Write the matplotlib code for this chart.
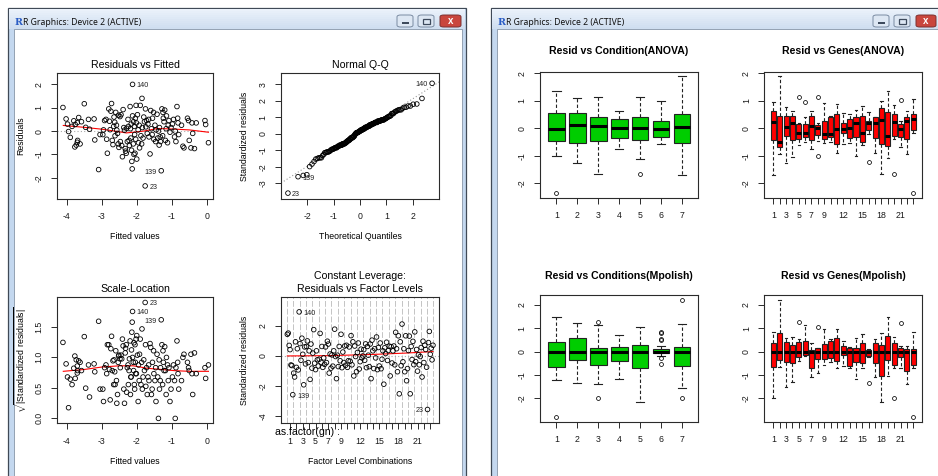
import matplotlib
matplotlib.use("Agg")
import matplotlib.pyplot as plt
from matplotlib.patches import Rectangle, FancyBboxPatch
from statistics import NormalDist
import numpy as np

plt.rcParams['font.family'] = ['Liberation Sans', 'DejaVu Sans']
plt.rcParams['mathtext.fontset'] = 'custom'
plt.rcParams['mathtext.rm'] = 'Liberation Sans'
plt.rcParams['axes.unicode_minus'] = False

# ---------------- data: Residuals vs Fitted (lm) ----------------
fitted_vals = [
    -4.11, -4.02, -3.98, -3.95, -3.90, -3.80, -3.76, -3.77, -3.73, -3.70, -3.69, -3.66,
    -3.70, -3.50, -3.46, -3.38, -3.35, -3.22, -3.20, -3.09, -3.05, -3.58, -3.62, -3.85,
    -2.97, -2.92, -2.88, -2.84, -2.80, -2.76, -2.72, -2.70, -2.68, -2.65, -2.63, -2.60,
    -2.58, -2.57, -2.55, -2.53, -2.51, -2.62, -2.78, -2.95, -2.66, -2.86, -2.74, -2.52,
    -2.48, -2.47, -2.45, -2.43, -2.41, -2.39, -2.37, -2.35, -2.33, -2.32, -2.30, -2.29,
    -2.27, -2.25, -2.24, -2.22, -2.21, -2.19, -2.18, -2.17, -2.16, -2.15, -2.14, -2.13,
    -2.12, -2.12, -2.10, -2.09, -2.08, -2.07, -2.06, -2.05, -2.04, -2.03, -2.02, -2.01,
    -2.00,
    -1.98, -1.96, -1.95, -1.93, -1.90, -1.88, -1.85, -1.84, -1.82, -1.80, -1.78, -1.76,
    -1.75, -1.72, -1.70, -1.68, -1.66, -1.65, -1.62, -1.60, -1.58, -1.56, -1.55, -1.52,
    -1.51, -1.92, -1.86, -1.74,
    -1.48, -1.46, -1.45, -1.42, -1.40, -1.38, -1.36, -1.35, -1.32, -1.30, -1.28, -1.26,
    -1.25, -1.22, -1.20, -1.18, -1.16, -1.15, -1.12, -1.10, -1.08, -1.05, -1.02, -1.33,
    -1.24,
    -0.98, -0.95, -0.92, -0.90, -0.88, -0.85, -0.83, -0.82, -0.80, -0.72, -0.68, -0.65,
    -0.55, -0.52, -0.50, -0.45, -0.42, -0.40, -0.35, -0.30, -0.05, -0.03, 0.05,
]
resid_vals = [
    1.01, 0.52, 0.30, -0.02, -0.27, 0.44, 0.28, -0.68, -0.60, -0.48, -0.40, 0.58,
    0.36, 1.17, 0.16, 0.50, 0.08, 0.52, -0.38, -1.65, -0.15, 0.40, -0.55, 0.20,
    -0.15, 0.45, 0.50, -0.95, 0.95, 0.06, 1.18, -0.40, -0.58, 0.60, 0.38, 0.80,
    0.25, 0.04, -0.10, -0.55, -0.70, -0.20, 0.42, 0.05, 0.20, -0.35, 0.85, 0.68,
    0.62, -0.45, 0.70, -0.62, -1.10, 0.92, 0.15, 0.04, -0.75, -0.86, -0.95, 0.12,
    -0.45, 0.50, 0.20, -0.40, -0.62, 1.05, 0.10, -0.30, 0.30, -0.82, -1.30, -1.62,
    0.65, 2.00, -0.55, 0.40, -1.00, 0.20, -0.15, -0.95, 0.55, -0.35, 1.10, 0.35,
    -1.20,
    0.70, 0.05, -0.50, 0.25, 1.10, -0.20, 1.40, 0.15, -0.30, 0.60, 0.40, -2.35,
    0.95, 0.45, -0.10, 0.30, 0.50, -0.25, -0.98, 0.88, 0.10, -0.15, 0.55, 0.80,
    -0.35, -0.72, -0.55, 0.18,
    0.25, -0.45, 0.05, 0.72, -0.30, 0.00, -0.60, 0.15, -0.45, -1.70, 0.95, -0.20,
    0.80, 0.40, 0.90, -0.40, 0.10, 0.65, -0.50, 0.25, 0.45, -0.05, 0.15, -0.25,
    0.55,
    0.30, 0.50, -0.25, 0.00, -0.45, 1.05, 0.55, 0.35, -0.15, 0.25, -0.65, -0.72,
    0.55, 0.45, -0.40, -0.72, 0.35, -0.10, -0.75, 0.35, 0.45, 0.28, -0.50,
]
resid_scale = 0.654          # sigma * sqrt(1 - h), constant leverage
id_labels = {2.00: "140", -1.70: "139", -2.35: "23"}

smooth_rf_x = [-4.1, -3.5, -3.0, -2.5, -2.3, -2.1, -1.8, -1.4, -1.0, -0.5, 0.05]
smooth_rf_y = [0.24, 0.16, 0.08, -0.03, -0.08, -0.05, 0.00, 0.11, 0.09, 0.05, -0.05]
smooth_sl_x = [-4.1, -3.5, -3.0, -2.5, -2.1, -1.7, -1.3, -0.9, -0.5, 0.05]
smooth_sl_y = [0.77, 0.80, 0.84, 0.86, 0.86, 0.82, 0.80, 0.78, 0.77, 0.77]

# standardized residuals by gene (rows) and condition (cols) for leverage plot
lev_std = [
    [1.42, 1.50, 0.68, 0.40, -0.62, -0.66, -2.60],
    [-1.16, -1.42, 0.92, -0.78, 0.46, -0.95, 2.91],
    [0.80, -0.31, 1.16, 0.09, -1.94, 0.58, -0.55],
    [0.61, 0.98, -0.46, 0.32, -1.58, 0.77, -0.83],
    [0.17, 1.73, -0.50, -0.93, 0.32, -0.28, -0.69],
    [-0.24, 1.48, -0.43, 0.61, -0.78, -0.15, -0.58],
    [0.58, -0.46, 0.96, 0.77, -1.16, 0.11, -0.83],
    [0.05, -0.70, 0.32, 1.76, -0.06, -1.53, 0.03],
    [-0.73, 0.61, -0.34, 1.42, -0.80, 0.24, -0.46],
    [0.64, -0.64, 0.69, -0.78, -0.34, 0.58, -0.37],
    [1.33, -0.61, 0.92, -1.35, 0.64, -0.06, -1.07],
    [0.21, 0.84, -0.89, -0.40, 0.43, -0.15, -0.02],
    [0.40, -0.31, 0.78, -0.80, 0.61, 0.03, -0.73],
    [0.77, -1.53, 1.03, 0.32, -0.86, 0.46, -0.15],
    [1.24, -0.93, 0.54, -0.69, 0.84, -0.87, -0.24],
    [0.32, -1.90, 0.52, 0.14, 0.89, -0.32, 0.34],
    [0.63, -1.35, 0.60, -0.49, 0.32, 0.64, -0.61],
    [1.55, 0.46, -1.07, 1.32, -2.54, 0.92, -0.67],
    [2.10, -0.41, 0.46, -1.07, 1.32, -1.67, -0.86],
    [0.34, 1.30, -2.54, 0.61, -0.26, 0.95, -0.60],
    [1.58, -0.40, 0.41, -1.03, 0.05, -0.61, -0.06],
    [0.54, -1.42, 0.96, -0.46, 0.69, 0.41, -0.77],
    [-3.58, 0.87, 1.61, 0.09, 0.50, -0.28, 0.69],
]
lev_ids = {(0, 6): "139", (1, 6): "140", (22, 0): "23"}
smooth_lev_x = [0, 46, 94, 130, 160]
smooth_lev_y = [-0.02, 0.00, 0.08, 0.17, 0.27]

gene_tick_labels = ["1", "", "3", "", "5", "", "7", "", "9", "", "", "12", "", "",
                    "15", "", "", "18", "", "", "21", "", ""]
cond_labels = ["1", "2", "3", "4", "5", "6", "7"]

# ---------------- box statistics ----------------
ca_lo = [-1.00, -1.25, -1.66, -0.76, -1.12, -0.55, -1.70]
ca_q1 = [-0.45, -0.52, -0.46, -0.36, -0.42, -0.33, -0.52]
ca_med = [-0.04, 0.13, 0.10, 0.01, 0.01, -0.01, 0.04]
ca_q3 = [0.55, 0.55, 0.42, 0.34, 0.42, 0.28, 0.51]
ca_hi = [1.36, 1.09, 1.13, 0.63, 1.15, 1.00, 1.90]
ca_fl = [[-2.35], [], [], [], [-1.66], [], []]

cm_lo = [-1.21, -1.33, -1.40, -1.17, -2.16, -0.19, -1.54]
cm_q1 = [-0.64, -0.36, -0.57, -0.40, -0.69, -0.04, -0.61]
cm_med = [0, 0, 0, 0, 0, 0, 0]
cm_q3 = [0.40, 0.57, 0.17, 0.21, 0.30, 0.13, 0.21]
cm_hi = [1.50, 1.21, 1.14, 0.71, 1.06, 0.24, 1.17]
cm_fl = [[-2.79], [], [1.29, -2.0], [], [], [0.84, 0.80, 0.53, 0.50, -0.29, -0.53], [2.21, -2.0]]

ga_lo = [-1.70, -0.93, -1.27, -1.03, -0.61, -0.51, -0.76, -0.46, -0.52, -0.51, -0.88, -0.58,
         -0.52, -1.00, -0.61, -0.21, -0.88, -1.66, -1.09, -0.39, -0.67, -0.93, -0.18]
ga_q1 = [-0.42, -0.69, -0.28, -0.42, -0.39, -0.33, -0.42, -0.25, -0.39, -0.33, -0.55, -0.18,
         -0.34, -0.33, -0.51, -0.06, -0.36, -0.57, -0.63, -0.28, -0.33, -0.40, -0.06]
ga_med = [0.22, -0.51, 0.06, 0.21, -0.18, -0.16, 0.07, 0.02, -0.22, -0.22, -0.04, -0.01,
          0.02, 0.21, -0.16, 0.21, 0.21, 0.30, -0.27, 0.22, -0.04, 0.27, 0.33]
ga_q3 = [0.63, 0.45, 0.45, 0.45, 0.16, 0.15, 0.44, 0.12, 0.28, 0.40, 0.51, 0.21,
         0.33, 0.40, 0.45, 0.28, 0.40, 0.73, 0.58, 0.51, 0.15, 0.40, 0.51]
ga_hi = [0.95, 1.90, 0.76, 0.64, 0.21, 0.40, 0.63, 0.21, 0.93, 0.45, 0.87, 0.55,
         0.51, 0.67, 0.81, 0.58, 0.42, 1.01, 1.37, 0.85, 0.27, 0.63, 1.05]
ga_fl = [[], [], [], [], [1.13], [0.97], [], [1.15, -1.00], [], [], [], [],
         [], [], [], [-1.24], [], [], [], [-1.66], [1.03], [], [-2.34]]

gm_lo = [-2.00, -0.64, -1.53, -1.29, -0.39, -0.19, -1.10, -0.93, -0.57, -0.46, -0.69, -0.60,
         -0.69, -1.19, -0.69, -0.24, -1.10, -2.14, -1.03, -0.71, -0.71, -1.40, -0.69]
gm_q1 = [-0.64, -0.36, -0.46, -0.50, -0.21, -0.14, -0.69, -0.33, -0.33, -0.29, -0.39, -0.14,
         -0.60, -0.46, -0.50, -0.19, -0.50, -1.03, -0.36, -0.57, -0.24, -0.83, -0.57]
gm_med = [0] * 23
gm_q3 = [0.36, 0.79, 0.40, 0.29, 0.40, 0.46, 0.07, 0.14, 0.31, 0.46, 0.60, 0.24,
         0.14, 0.17, 0.36, 0.07, 0.36, 0.29, 0.69, 0.36, 0.14, 0.11, 0.11]
gm_hi = [0.83, 2.21, 0.57, 0.64, 0.54, 1.14, 0.36, 0.17, 0.96, 0.54, 0.97, 0.47,
         0.19, 0.57, 0.74, 0.10, 0.53, 0.81, 1.50, 0.64, 0.24, 0.24, 0.83]
gm_fl = [[], [], [], [], [1.29], [], [], [1.07], [], [], [], [],
         [], [], [], [-1.33], [], [], [], [-2.0], [1.21], [], [-2.79]]

# ---------------- figure & helpers ----------------
W, H = 938, 476
fig = plt.figure(figsize=(W / 100, H / 100), dpi=100)
fig.patch.set_facecolor("white")


def fx(x):
    return x / W


def fy(y):
    return 1 - y / H


def rect(x0, y0, x1, y1, z=-10, **kw):
    fig.patches.append(Rectangle((fx(x0), fy(y1)), (x1 - x0) / W, (y1 - y0) / H,
                                 transform=fig.transFigure, zorder=z, **kw))


def ftext(x, y, s, **kw):
    fig.text(fx(x), fy(y), s, **kw)


def button(x0, x1, kind):
    y0, y1 = 15, 27
    fc = "#c9463d" if kind == "close" else "#dde7f3"
    ec = "#7b3030" if kind == "close" else "#7a8ba2"
    fig.patches.append(FancyBboxPatch((fx(x0), fy(y1)), (x1 - x0) / W, (y1 - y0) / H,
                                      boxstyle="round,pad=0,rounding_size=0.004",
                                      transform=fig.transFigure, fc=fc, ec=ec, lw=0.7,
                                      zorder=-5))
    cx, cy = (x0 + x1) / 2, (y0 + y1) / 2
    if kind == "min":
        rect(cx - 3.5, cy + 1, cx + 3.5, cy + 2.6, z=-4, fc="#3d4a5c", ec="none")
    elif kind == "max":
        rect(cx - 3.5, cy - 2.5, cx + 3.5, cy + 2.5, z=-4, fc="none", ec="#3d4a5c", lw=0.9)
    else:
        ftext(cx, cy + 0.5, "x", ha="center", va="center", color="white",
              fontsize=7, fontweight="bold")


def window(x0, x1, icon_x, btns):
    rect(x0, 8, x1, 480, fc="#c4d8ef", ec="#3f4956", lw=0.9)
    top = np.array([0xea, 0xf1, 0xfa]) / 255
    bot = np.array([0xcf, 0xde, 0xf0]) / 255
    n = 10
    for i in range(n):
        c = top + (bot - top) * i / (n - 1)
        rect(x0 + 0.6, 8.6 + i * 2.05, x1 - 0.6, 8.6 + (i + 1) * 2.05 + 0.1, z=-9,
             fc=c, ec="none")
    rect(x0 + 5.5, 29, x1 - 4.5, 480, z=-8, fc="white", ec="#8796a8", lw=0.6)
    ftext(icon_x, 22.5, "R", ha="left", va="center", color="#2a5cc4",
          fontsize=6.8, fontweight="bold", family="DejaVu Serif")
    ftext(icon_x + 8.2, 22.5, "R Graphics: Device 2 (ACTIVE)", ha="left", va="center",
          color="#111111", fontsize=6.2, family="Noto Sans")
    for (a, b, k) in btns:
        button(a, b, k)


window(8, 466, 14.5, [(397, 413, "min"), (418, 434, "max"), (440, 461, "close")])
window(491, 960, 497.5, [(873, 889, "min"), (894, 910, "max"), (916, 936, "close")])

SP = "#2b2b2b"
TS = 6.3


def mkax(x0, y0, x1, y1):
    ax = fig.add_axes([fx(x0), fy(y1), (x1 - x0) / W, (y1 - y0) / H])
    ax.set_zorder(2)
    for s in ax.spines.values():
        s.set_color(SP)
        s.set_linewidth(0.8)
    ax.tick_params(direction="out", length=4.5, width=0.7, color=SP, labelsize=TS,
                   labelcolor="#1a1a1a", pad=5.2)
    ax.tick_params(axis="y", labelrotation=90)
    return ax


def fix_y(ax):
    for t in ax.get_yticklabels():
        t.set_va("center")


def circles(ax, x, y, s=11):
    ax.scatter(x, y, s=s, facecolors="none", edgecolors="black", linewidths=0.6, zorder=3)


def idtext(ax, x, y, s, side):
    ax.annotate(s, (x, y), xytext=(3 if side == "r" else -3, -1), textcoords="offset points",
                ha="left" if side == "r" else "right", va="center", fontsize=5.2, color="#222222")


fitted = np.array(fitted_vals)
resid = np.array(resid_vals)
stdres = resid / resid_scale

# ---- P1: Residuals vs Fitted
ax = mkax(57, 72.7, 213, 199)
ax.axhline(0, color="#aaaaaa", ls=(0, (1, 2)), lw=0.8)
circles(ax, fitted, resid)
ax.plot(smooth_rf_x, smooth_rf_y, color="red", lw=0.8)
for val, lab in id_labels.items():
    i = int(np.argmin(np.abs(resid - val)))
    idtext(ax, fitted[i], resid[i], lab, "l" if lab == "139" else "r")
ax.set_xlim(-4.28, 0.18)
ax.set_ylim(-2.91, 2.50)
ax.set_xticks([-4, -3, -2, -1, 0])
ax.set_yticks([-2, -1, 0, 1, 2])
fix_y(ax)
ftext(135, 65, "Residuals vs Fitted", ha="center", va="center", fontsize=7.6)
ftext(135, 236.7, "Fitted values", ha="center", va="center", fontsize=TS)
ftext(20.7, 136, "Residuals", ha="center", va="center", fontsize=TS, rotation=90)

# ---- P2: Normal Q-Q
ax = mkax(281, 72.7, 439.3, 199)
n = len(stdres)
order = np.argsort(stdres)
ys = stdres[order]
nd = NormalDist()
xs = np.array([nd.inv_cdf((i + 0.5) / n) for i in range(n)])
q1y, q3y = np.percentile(stdres, [25, 75])
q1x, q3x = nd.inv_cdf(0.25), nd.inv_cdf(0.75)
slope = (q3y - q1y) / (q3x - q1x)
ax.axline((q1x, q1y), slope=slope, color="#999999", ls=(0, (1, 2)), lw=0.8)
circles(ax, xs, ys)
for val, lab in id_labels.items():
    i = int(np.argmin(np.abs(ys - val / resid_scale)))
    idtext(ax, xs[i], ys[i], lab, "l" if xs[i] > 0 else "r")
ax.set_xlim(-3.0, 3.01)
ax.set_ylim(-3.95, 3.70)
ax.set_xticks([-2, -1, 0, 1, 2])
ax.set_yticks([-3, -2, -1, 0, 1, 2, 3])
fix_y(ax)
ftext(360, 65, "Normal Q-Q", ha="center", va="center", fontsize=7.6)
ftext(360, 236.7, "Theoretical Quantiles", ha="center", va="center", fontsize=TS)
ftext(244, 136, "Standardized residuals", ha="center", va="center", fontsize=TS, rotation=90)

# ---- P3: Scale-Location
ax = mkax(57, 296.7, 213, 423.3)
sq = np.sqrt(np.abs(stdres))
circles(ax, fitted, sq)
ax.plot(smooth_sl_x, smooth_sl_y, color="red", lw=0.8)
for val, lab in id_labels.items():
    i = int(np.argmin(np.abs(resid - val)))
    idtext(ax, fitted[i], sq[i], lab, "l" if lab == "139" else "r")
ax.set_xlim(-4.28, 0.18)
ax.set_ylim(-0.08, 1.99)
ax.set_xticks([-4, -3, -2, -1, 0])
ax.set_yticks([0, 0.5, 1.0, 1.5])
ax.set_yticklabels(["0.0", "0.5", "1.0", "1.5"])
fix_y(ax)
ftext(135, 289, "Scale-Location", ha="center", va="center", fontsize=7.6)
ftext(135, 461.7, "Fitted values", ha="center", va="center", fontsize=TS)
ftext(20.7, 360, r"$\sqrt{|\mathrm{Standardized\ residuals}|}$", ha="center", va="center",
      fontsize=TS, rotation=90)

# ---- P4: Constant leverage
ax = mkax(281, 296.7, 439.3, 423.3)
ng = len(lev_std)
nc = len(lev_std[0])
for k in range(ng + 1):
    ax.axvline(nc * k - 0.5, color="#c4c4c4", ls=(0, (6, 2)), lw=0.7, zorder=0)
ax.axhline(0, color="#aaaaaa", ls=(0, (1, 2)), lw=0.8)
lx, ly = [], []
for g, row in enumerate(lev_std):
    for c, v in enumerate(row):
        lx.append(nc * g + c)
        ly.append(v)
circles(ax, lx, ly)
ax.plot(smooth_lev_x, smooth_lev_y, color="red", lw=0.8)
for (g, c), lab in lev_ids.items():
    idtext(ax, nc * g + c, lev_std[g][c], lab, "l" if g > 10 else "r")
ax.set_xlim(-6.94, nc * ng - 0.5 + 6.44)
ax.set_ylim(-4.5, 3.92)
ax.set_xticks([nc * (k + 0.5) - 0.5 for k in range(ng)])
ax.set_xticklabels(gene_tick_labels)
ax.set_yticks([-4, -2, 0, 2])
fix_y(ax)
ftext(360, 276, "Constant Leverage:", ha="center", va="center", fontsize=7.6)
ftext(360, 289, "Residuals vs Factor Levels", ha="center", va="center", fontsize=7.6)
ftext(275, 432, "as.factor(gn) :", ha="left", va="center", fontsize=7.6)
ftext(360, 461.7, "Factor Level Combinations", ha="center", va="center", fontsize=TS)
ftext(244, 360, "Standardized residuals", ha="center", va="center", fontsize=TS, rotation=90)


# ---- right window boxplots
def boxes(ax, lo, q1, med, q3, hi, fl, color):
    stats = []
    for i in range(len(lo)):
        stats.append(dict(whislo=lo[i], q1=q1[i], med=med[i], q3=q3[i], whishi=hi[i],
                          fliers=fl[i]))
    ax.bxp(stats, positions=list(range(1, len(lo) + 1)), widths=0.8, patch_artist=True,
           showfliers=True, capwidths=0.4, manage_ticks=False,
           boxprops=dict(facecolor=color, edgecolor="#222222", linewidth=0.8),
           medianprops=dict(color="black", linewidth=2.2, solid_capstyle="butt"),
           whiskerprops=dict(color="#222222", linestyle=(0, (3, 2)), linewidth=0.8),
           capprops=dict(color="#222222", linewidth=0.8),
           flierprops=dict(marker="o", markerfacecolor="none", markeredgecolor="black",
                           markersize=2.8, markeredgewidth=0.55))
    n = len(lo)
    ax.set_xlim(0.5 - 0.04 * n, n + 0.5 + 0.04 * n)
    ax.set_xticks(list(range(1, n + 1)))


GREEN = "#00cd00"
RED = "#ff0000"

ax = mkax(540, 71.7, 698.3, 197.7)
boxes(ax, ca_lo, ca_q1, ca_med, ca_q3, ca_hi, ca_fl, GREEN)
ax.set_xticklabels(cond_labels)
ax.set_ylim(-2.52, 2.06)
ax.set_yticks([-2, -1, 0, 1, 2])
fix_y(ax)
ftext(619, 50.7, "Resid vs Condition(ANOVA)", ha="center", va="center", fontsize=7.6,
      fontweight="bold")

ax = mkax(764.3, 71.7, 922.3, 197.7)
boxes(ax, ga_lo, ga_q1, ga_med, ga_q3, ga_hi, ga_fl, RED)
ax.set_xticklabels(gene_tick_labels)
ax.set_ylim(-2.52, 2.06)
ax.set_yticks([-2, -1, 0, 1, 2])
fix_y(ax)
ftext(843, 50.7, "Resid vs Genes(ANOVA)", ha="center", va="center", fontsize=7.6,
      fontweight="bold")

ax = mkax(540, 295, 698.3, 421.7)
boxes(ax, cm_lo, cm_q1, cm_med, cm_q3, cm_hi, cm_fl, GREEN)
ax.set_xticklabels(cond_labels)
ax.set_ylim(-3.0, 2.43)
ax.set_yticks([-2, -1, 0, 1, 2])
fix_y(ax)
ftext(619, 276, "Resid vs Conditions(Mpolish)", ha="center", va="center", fontsize=7.6,
      fontweight="bold")

ax = mkax(764.3, 295, 922.3, 421.7)
boxes(ax, gm_lo, gm_q1, gm_med, gm_q3, gm_hi, gm_fl, RED)
ax.set_xticklabels(gene_tick_labels)
ax.set_ylim(-3.0, 2.43)
ax.set_yticks([-2, -1, 0, 1, 2])
fix_y(ax)
ftext(843, 276, "Resid vs Genes(Mpolish)", ha="center", va="center", fontsize=7.6,
      fontweight="bold")

fig.savefig("out.png", dpi=100)
